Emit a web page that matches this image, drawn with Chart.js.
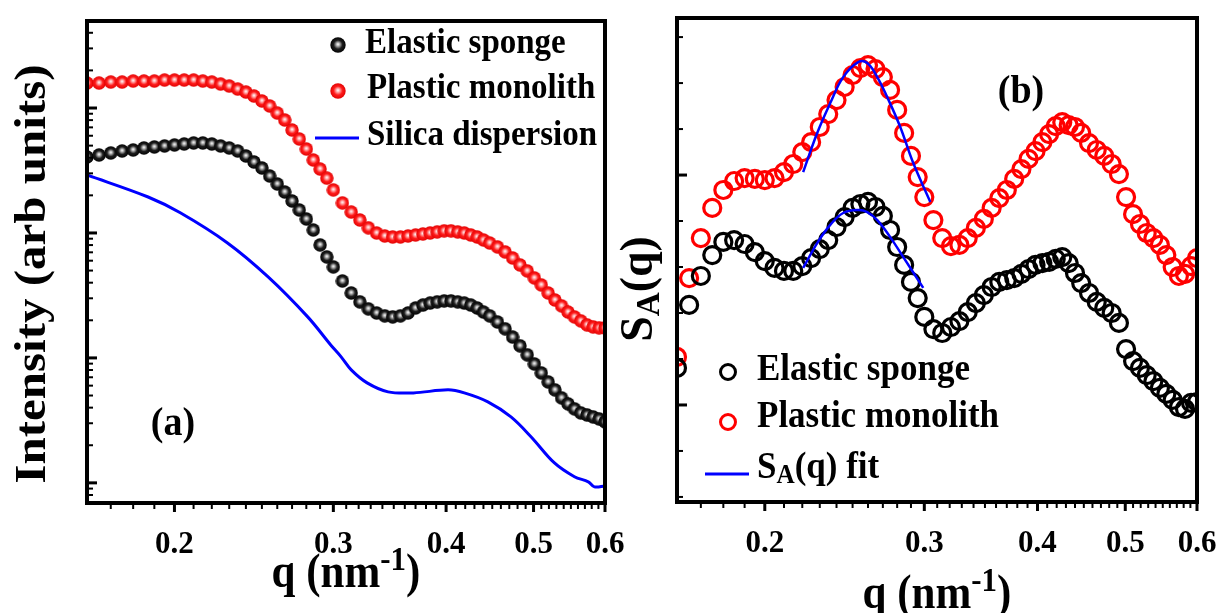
<!DOCTYPE html>
<html>
<head>
<meta charset="utf-8">
<script src="https://cdn.jsdelivr.net/npm/chart.js@4.4.1/dist/chart.umd.min.js"></script>
<style>
  body { margin: 0; background: #fff; width: 1216px; height: 613px; overflow: hidden; position: relative; }
  canvas { position: absolute; top: 0; }
  #chartA { left: 0; }
  #chartB { left: 600px; }
</style>
</head>
<body>
<canvas id="chartA" width="640" height="613"></canvas>
<canvas id="chartB" width="632" height="613"></canvas>
<script>
// q grid shared by both panels (nm^-1)
const qData = [
  0.160, 0.165, 0.170, 0.175, 0.180, 0.185, 0.190, 0.195, 0.200, 0.205,
  0.210, 0.215, 0.220, 0.225, 0.230, 0.235, 0.240, 0.245, 0.250, 0.255,
  0.260, 0.265, 0.270, 0.275, 0.280, 0.285, 0.290, 0.295, 0.300,
  0.307, 0.314, 0.321, 0.328, 0.335, 0.342, 0.349, 0.356, 0.363, 0.370,
  0.377, 0.384, 0.391, 0.398, 0.405, 0.412, 0.419, 0.426, 0.433, 0.440, 0.447,
  0.456, 0.465, 0.474, 0.483, 0.492, 0.501, 0.510, 0.519, 0.528, 0.537,
  0.546, 0.555, 0.564, 0.573, 0.582, 0.591, 0.600
];

// (a) intensity, arb units
const elasticI = [
  405.5, 420.7, 436.5, 452.9, 461.3, 478.6, 487.5, 496.6, 505.8, 515.2,
  524.8, 524.8, 515.2, 496.6, 478.6, 452.9, 413.0, 369.8, 331.1, 285.8,
  246.6, 212.8, 180.3, 152.8, 129.4, 105.7, 80.2, 64.3, 53.5,
  41.3, 33.1, 28.1, 24.7, 22.9, 21.7, 21.3, 21.7, 22.9, 25.1,
  26.5, 27.5, 28.1, 28.6, 28.6, 28.1, 27.5, 26.5, 25.1, 23.3, 21.7,
  19.4, 17.1, 14.7, 12.5, 10.6, 8.95, 7.59, 6.43, 5.55, 4.79,
  4.29, 3.91, 3.63, 3.50, 3.37, 3.25, 3.08
];
const plasticI = [
  1585, 1585, 1614, 1614, 1644, 1644, 1644, 1675, 1675, 1675,
  1675, 1644, 1614, 1556, 1500, 1419, 1343, 1247, 1138, 1038,
  912, 802, 667, 565, 470, 384, 325, 275, 221,
  174, 147, 127, 110, 100, 94.6, 92.9, 92.9, 94.6, 96.4,
  98.2, 100, 102, 104, 104, 102, 100, 96.4, 92.9, 87.9, 83.2,
  77.3, 70.5, 63.1, 55.5, 49.7, 43.7, 38.4, 33.1, 29.1, 26.1,
  23.3, 21.3, 19.8, 18.4, 17.7, 17.4, 17.4
];
const qSilica = [0.160, 0.187, 0.203, 0.229, 0.254, 0.281, 0.298, 0.306, 0.314, 0.327, 0.345,
                 0.368, 0.402, 0.419, 0.445, 0.472, 0.497, 0.527, 0.555, 0.575, 0.584, 0.600];
const silicaI = [291, 194, 145, 83.2, 44.5, 21.3, 12.7, 10.2, 8.02, 6.31, 5.35,
                 5.25, 5.55, 5.25, 4.45, 3.37, 2.33, 1.45, 1.12, 1.02, 0.929, 0.946];

// (b) structure factor S_A(q)
const elasticS = [
  1.161, 1.435, 1.561, 1.652, 1.709, 1.717, 1.700, 1.665, 1.626, 1.596,
  1.583, 1.583, 1.604, 1.639, 1.678, 1.717, 1.774, 1.817, 1.857, 1.874,
  1.883, 1.861, 1.822, 1.761, 1.687, 1.609, 1.535, 1.465, 1.383,
  1.330, 1.313, 1.339, 1.365, 1.404, 1.443, 1.478, 1.513, 1.535, 1.543,
  1.552, 1.570, 1.591, 1.609, 1.617, 1.622, 1.635, 1.643, 1.617, 1.574, 1.530,
  1.487, 1.448, 1.422, 1.400, 1.357, 1.243, 1.191, 1.161, 1.130, 1.104,
  1.074, 1.048, 1.022, 0.991, 0.983, 1.009, 1.013
];
const plasticS = [
  1.209, 1.552, 1.726, 1.857, 1.935, 1.974, 1.987, 1.983, 1.978, 1.987,
  2.013, 2.048, 2.100, 2.143, 2.209, 2.265, 2.326, 2.383, 2.435, 2.465,
  2.478, 2.461, 2.426, 2.370, 2.283, 2.183, 2.083, 1.991, 1.904,
  1.804, 1.726, 1.691, 1.696, 1.726, 1.770, 1.809, 1.857, 1.900, 1.935,
  1.983, 2.026, 2.070, 2.104, 2.143, 2.178, 2.213, 2.230, 2.217, 2.209, 2.183,
  2.139, 2.109, 2.083, 2.048, 2.004, 1.904, 1.830, 1.787, 1.748, 1.726,
  1.696, 1.652, 1.600, 1.561, 1.570, 1.604, 1.639
];
const qFitPlastic = [0.2205, 0.2285, 0.2362, 0.2441, 0.2536, 0.2595, 0.2662, 0.2730, 0.2822, 0.2917, 0.3046];
const fitPlastic  = [2.013, 2.183, 2.313, 2.426, 2.491, 2.487, 2.426, 2.339, 2.209, 2.052, 1.883];
const qFitElastic = [0.2205, 0.2285, 0.2362, 0.2441, 0.2536, 0.2595, 0.2662, 0.2751, 0.2844, 0.2992];
const fitElastic  = [1.596, 1.704, 1.783, 1.835, 1.848, 1.839, 1.804, 1.730, 1.643, 1.509];

const qTicks = [0.2, 0.3, 0.4, 0.5, 0.6];
const intensityDecades = [1, 10, 100, 1000];
const sTicks = [1, 2];

const SERIF = '"Liberation Serif", "Times New Roman", serif';

function pts(xs, ys) {
  return xs.map((x, i) => ({ x, y: ys[i] }));
}

// shaded ball used as marker in panel (a)
function makeBall(d, light, base, rim) {
  const c = document.createElement('canvas');
  c.width = d; c.height = d;
  const g = c.getContext('2d');
  const r = d / 2;
  const grad = g.createRadialGradient(r, r * 0.9, 0, r, r, r);
  grad.addColorStop(0, '#ffffff');
  grad.addColorStop(0.2, light);
  grad.addColorStop(0.55, base);
  grad.addColorStop(1, rim);
  g.fillStyle = grad;
  g.beginPath();
  g.arc(r, r, r - 0.3, 0, Math.PI * 2);
  g.fill();
  return c;
}
const redBall = makeBall(14, '#ffb4b4', '#ff1c1c', '#e00000');
const blackBall = makeBall(14, '#b8b8b8', '#1e1e1e', '#000000');
const redBallBig = makeBall(16, '#ffb4b4', '#ff1c1c', '#e00000');
const blackBallBig = makeBall(16, '#b8b8b8', '#1e1e1e', '#000000');

// text with sub/superscript parts: [[text, ''|'sup'|'sub'], ...]
function drawRich(ctx, parts, x, y, size, opt = {}) {
  const items = parts.map(([t, m]) => {
    const s = m ? size * 0.72 : size;
    ctx.font = `bold ${s}px ${SERIF}`;
    return { t, m, s, w: ctx.measureText(t).width };
  });
  const total = items.reduce((a, p) => a + p.w, 0);
  ctx.save();
  ctx.translate(x, y);
  if (opt.rotate) ctx.rotate(opt.rotate);
  ctx.scale(1, opt.sy || 1);
  ctx.fillStyle = '#000';
  ctx.textBaseline = 'middle';
  ctx.textAlign = 'left';
  let cx = opt.align === 'left' ? 0 : -total / 2;
  items.forEach(p => {
    ctx.font = `bold ${p.s}px ${SERIF}`;
    const dy = p.m === 'sup' ? -size * 0.3 : p.m === 'sub' ? size * 0.22 : 0;
    ctx.fillText(p.t, cx, dy);
    cx += p.w;
  });
  ctx.restore();
}

// box frame and inward/outward ticks
const frameTicks = {
  id: 'frameTicks',
  afterDatasetsDraw(chart, args, o) {
    const { ctx, chartArea: a } = chart;
    const sx = chart.scales.x, sy = chart.scales.y;
    const seg = (x1, y1, x2, y2, w) => {
      ctx.lineWidth = w;
      ctx.beginPath(); ctx.moveTo(x1, y1); ctx.lineTo(x2, y2); ctx.stroke();
    };
    ctx.save();
    ctx.strokeStyle = '#000';
    o.xMinor.forEach(v => { const p = sx.getPixelForValue(v); seg(p, a.bottom, p, a.bottom + 6, 2); });
    o.xMajor.forEach(v => { const p = sx.getPixelForValue(v); seg(p, a.bottom, p, a.bottom + 9, 3); });
    o.yMinor.forEach(v => {
      const p = sy.getPixelForValue(v);
      if (p > a.top + 2 && p < a.bottom - 2) seg(a.left, p, a.left + 6, p, 2);
    });
    o.yMajor.forEach(v => { const p = sy.getPixelForValue(v); seg(a.left, p, a.left + 10, p, 3); });
    ctx.lineWidth = 4;
    ctx.strokeRect(a.left, a.top, a.right - a.left, a.bottom - a.top);
    ctx.restore();
  }
};

// legend, panel letter and axis titles
const notes = {
  id: 'notes',
  afterDraw(chart, args, o) {
    const ctx = chart.ctx;
    o.legend.forEach(it => {
      ctx.save();
      if (it.ball) ctx.drawImage(it.ball, it.mx - it.ball.width / 2, it.my - it.ball.height / 2);
      if (it.ring) {
        ctx.strokeStyle = it.ring; ctx.lineWidth = 3;
        ctx.beginPath(); ctx.arc(it.mx, it.my, 7.5, 0, Math.PI * 2); ctx.stroke();
      }
      if (it.line) {
        ctx.strokeStyle = it.line; ctx.lineWidth = 3;
        ctx.beginPath(); ctx.moveTo(it.mx - 22, it.my); ctx.lineTo(it.mx + 22, it.my); ctx.stroke();
      }
      ctx.restore();
      drawRich(ctx, it.text, it.tx, it.ty, o.legendSize, { align: 'left', sy: 1.08 });
    });
    drawRich(ctx, [[o.letter[0], '']], o.letter[1], o.letter[2], 38, { sy: 1.08 });
    drawRich(ctx, o.yTitle.parts, o.yTitle.x, o.yTitle.y, o.yTitle.size, { rotate: -Math.PI / 2, sy: o.yTitle.sy || 1 });
    drawRich(ctx, o.xTitle.parts, o.xTitle.x, o.xTitle.y, o.xTitle.size, { sy: 1.12 });
  }
};

const xMinorTicks = [];
for (let k = 17; k <= 59; k++) if (k % 10 !== 0) xMinorTicks.push(k / 100);
const intensityMinor = [];
[0.1, 1, 10, 100, 1000].forEach(d => { for (let k = 2; k <= 9; k++) intensityMinor.push(k * d); });
const sMinor = [0.6, 0.8, 1.2, 1.4, 1.6, 1.8, 2.2, 2.4, 2.6];

const qTitle = [['q (nm', ''], ['-1', 'sup'], [')', '']];

function xScale(height) {
  return {
    type: 'logarithmic', min: 0.16, max: 0.6,
    afterBuildTicks: s => { s.ticks = qTicks.map(v => ({ value: v })); },
    afterFit: s => { s.height = height; },
    grid: { display: false }, border: { display: false },
    ticks: {
      autoSkip: false, maxRotation: 0, padding: 15, color: '#000',
      font: { family: SERIF, size: 31, weight: 'bold' },
      callback: v => Number(v).toFixed(1)
    }
  };
}

const common = {
  responsive: false, animation: false, devicePixelRatio: 1,
  events: []
};

new Chart(document.getElementById('chartA'), {
  type: 'line',
  data: {
    datasets: [
      { label: 'Elastic sponge', data: pts(qData, elasticI), showLine: false,
        pointStyle: blackBall, pointRadius: 7, clip: 0 },
      { label: 'Plastic monolith', data: pts(qData, plasticI), showLine: false,
        pointStyle: redBall, pointRadius: 7, clip: 0 },
      { label: 'Silica dispersion', data: pts(qSilica, silicaI), borderColor: '#0000ff',
        borderWidth: 3, pointRadius: 0, tension: 0.35, clip: 0 }
    ]
  },
  options: Object.assign({}, common, {
    layout: { padding: { top: 21, right: 35, left: 0, bottom: 0 } },
    scales: {
      x: xScale(110),
      y: {
        type: 'logarithmic', min: 0.69, max: 4970,
        afterFit: s => { s.width = 87; },
        grid: { display: false }, border: { display: false }, ticks: { display: false }
      }
    },
    plugins: {
      legend: { display: false }, tooltip: { enabled: false },
      frameTicks: { xMajor: qTicks, xMinor: xMinorTicks, yMajor: intensityDecades, yMinor: intensityMinor },
      notes: {
        legendSize: 33,
        legend: [
          { ball: blackBallBig, mx: 338, my: 45, text: [['Elastic sponge', '']], tx: 365, ty: 44 },
          { ball: redBallBig, mx: 338, my: 91, text: [['Plastic monolith', '']], tx: 367, ty: 89 },
          { line: '#0000ff', mx: 337, my: 138, text: [['Silica dispersion', '']], tx: 367, ty: 136 }
        ],
        letter: ['(a)', 173, 424],
        yTitle: { parts: [['Intensity (arb units)', '']], x: 33, y: 274, size: 49, sy: 0.92 },
        xTitle: { parts: qTitle, x: 346, y: 575, size: 43 }
      }
    }
  }),
  plugins: [frameTicks, notes]
});

new Chart(document.getElementById('chartB'), {
  type: 'line',
  data: {
    datasets: [
      { label: 'fit plastic', data: pts(qFitPlastic, fitPlastic), borderColor: '#0000ff',
        borderWidth: 2.5, pointRadius: 0, tension: 0.4, clip: 0 },
      { label: 'fit elastic', data: pts(qFitElastic, fitElastic), borderColor: '#0000ff',
        borderWidth: 2.5, pointRadius: 0, tension: 0.4, clip: 0 },
      { label: 'Elastic sponge', data: pts(qData, elasticS), showLine: false, pointRadius: 8.5,
        pointBorderWidth: 3.2, pointBorderColor: '#000000', pointBackgroundColor: 'rgba(0,0,0,0)', clip: 0 },
      { label: 'Plastic monolith', data: pts(qData, plasticS), showLine: false, pointRadius: 8.5,
        pointBorderWidth: 3.2, pointBorderColor: '#ff0000', pointBackgroundColor: 'rgba(0,0,0,0)', clip: 0 }
    ]
  },
  options: Object.assign({}, common, {
    layout: { padding: { top: 18, right: 35, left: 0, bottom: 0 } },
    scales: {
      x: xScale(111),
      y: {
        type: 'linear', min: 0.578, max: 2.683,
        afterFit: s => { s.width = 77; },
        grid: { display: false }, border: { display: false }, ticks: { display: false }
      }
    },
    plugins: {
      legend: { display: false }, tooltip: { enabled: false },
      frameTicks: { xMajor: qTicks, xMinor: xMinorTicks, yMajor: sTicks, yMinor: sMinor },
      notes: {
        legendSize: 35,
        legend: [
          { ring: '#000000', mx: 128, my: 372, text: [['Elastic sponge', '']], tx: 157, ty: 370 },
          { ring: '#ff0000', mx: 128, my: 422, text: [['Plastic monolith', '']], tx: 157, ty: 417 },
          { line: '#0000ff', mx: 127, my: 474, text: [['S', ''], ['A', 'sub'], ['(q) fit', '']], tx: 157, ty: 468 }
        ],
        letter: ['(b)', 421, 92],
        yTitle: { parts: [['S', ''], ['A', 'sub'], ['(q)', '']], x: 40, y: 289, size: 46 },
        xTitle: { parts: qTitle, x: 337, y: 596, size: 43 }
      }
    }
  }),
  plugins: [frameTicks, notes]
});
</script>
</body>
</html>
